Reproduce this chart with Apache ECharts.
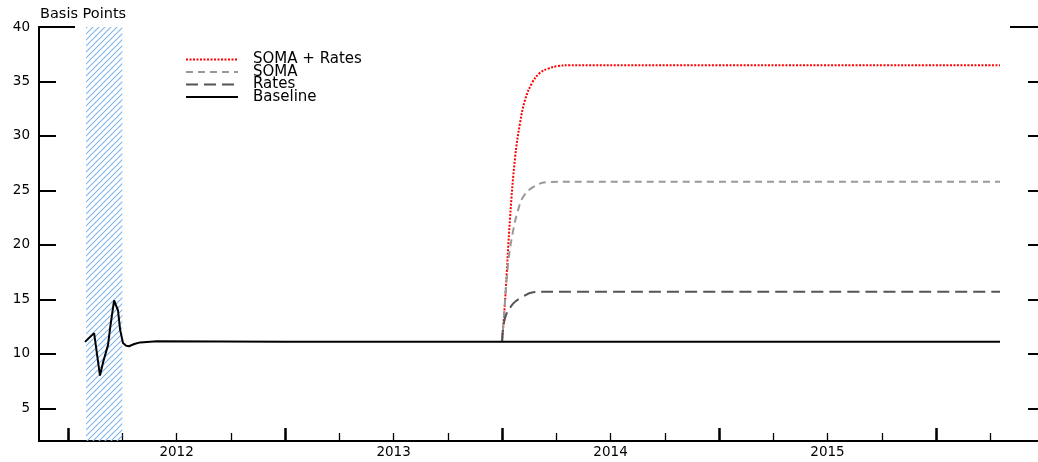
<!DOCTYPE html>
<html>
<head>
<meta charset="utf-8">
<script src="https://cdn.jsdelivr.net/npm/echarts@6/dist/echarts.min.js"></script>
<style>
  html, body { margin: 0; padding: 0; background: #fff; }
  #chart { width: 1038px; height: 462px; }
</style>
</head>
<body>
<div id="chart"></div>
<script>
// x values are decimal years
var xRange = [2011.866, 2016.47];
var yRange = [2, 40];
var yTicks = [5, 10, 15, 20, 25, 30, 35, 40];
var quarterTicks = [2012, 2012.25, 2012.5, 2012.75, 2013, 2013.25, 2013.5, 2013.75,
  2014, 2014.25, 2014.5, 2014.75, 2015, 2015.25, 2015.5, 2015.75, 2016, 2016.25];
var yearTicks = [2012, 2013, 2014, 2015, 2016];
var yearLabels = ['2012', '2013', '2014', '2015'];
var shadedPeriod = [2012.083, 2012.25];

var baseline = [
  [2012.078, 11.1], [2012.12, 11.9], [2012.147, 8.0], [2012.161, 9.2], [2012.184, 10.8],
  [2012.194, 12.4], [2012.212, 14.9], [2012.23, 14.0], [2012.24, 12.2], [2012.253, 11.0],
  [2012.268, 10.75], [2012.281, 10.7], [2012.305, 10.9], [2012.332, 11.05], [2012.41, 11.15],
  [2013.0, 11.1], [2016.295, 11.1]
];
var somaRates = [
  [2014.0, 11.1], [2014.014, 14.9], [2014.037, 22.5], [2014.06, 28.0], [2014.083, 31.2],
  [2014.106, 33.3], [2014.138, 34.85], [2014.175, 35.8], [2014.215, 36.2], [2014.253, 36.4],
  [2014.313, 36.5], [2016.295, 36.5]
];
var soma = [
  [2014.0, 11.1], [2014.005, 12.4], [2014.028, 18.3], [2014.051, 21.3], [2014.074, 23.2],
  [2014.097, 24.4], [2014.143, 25.3], [2014.207, 25.75], [2014.3, 25.8], [2016.295, 25.8]
];
var rates = [
  [2014.0, 11.1], [2014.014, 13.3], [2014.051, 14.6], [2014.092, 15.2], [2014.143, 15.65],
  [2014.221, 15.7], [2016.295, 15.7]
];

// diagonal hatch pattern
var hatch = document.createElement('canvas');
hatch.width = 6; hatch.height = 6;
(function () {
  var c = hatch.getContext('2d');
  c.strokeStyle = '#80b4e8';
  c.lineWidth = 1.1;
  c.beginPath();
  c.moveTo(-1, 7); c.lineTo(7, -1);
  c.moveTo(-1, 1); c.lineTo(1, -1);
  c.moveTo(5, 7); c.lineTo(7, 5);
  c.stroke();
})();

var ink = '#000';
var font = 'DejaVu Sans, Arial, sans-serif';

var chart = echarts.init(document.getElementById('chart'));

function yAx(position, tickVals, len, labels) {
  return {
    type: 'value', min: yRange[0], max: yRange[1], position: position,
    axisLine: { show: position === 'left', lineStyle: { color: '#000', width: 2 } },
    axisTick: { show: true, inside: true, length: len, customValues: tickVals, lineStyle: { color: '#000', width: 2 } },
    axisLabel: labels ? { show: true, customValues: yTicks, color: ink, fontSize: 13.5, fontFamily: font, margin: 9 } : { show: false },
    splitLine: { show: false }
  };
}

chart.setOption({
  animation: false,
  title: {
    text: 'Basis Points', left: 35, top: 2,
    textStyle: { fontSize: 14.5, fontWeight: 'normal', color: ink, fontFamily: font }
  },
  legend: {
    orient: 'vertical', left: 180, top: 47,
    itemWidth: 52, itemHeight: 12, itemGap: -2.5,
    itemStyle: { opacity: 0 },
    textStyle: { fontSize: 15, color: ink, fontFamily: font, lineHeight: 12, padding: [0, 0, 0, 10] },
    data: ['SOMA + Rates', 'SOMA', 'Rates', 'Baseline']
  },
  grid: { left: 39, right: 0, top: 27, bottom: 21, containLabel: false },
  xAxis: [
    {
      type: 'value', min: xRange[0], max: xRange[1],
      axisLine: { lineStyle: { color: '#000', width: 2 } },
      axisTick: { inside: true, length: 8, customValues: quarterTicks, lineStyle: { color: '#000', width: 1.3 } },
      axisLabel: {
        customValues: yearLabels.map(function (y) { return +y + 0.5; }),
        formatter: function (v) { return String(Math.floor(v)); },
        color: ink, fontSize: 13.5, fontFamily: font, margin: 4
      },
      splitLine: { show: false }
    },
    {
      type: 'value', min: xRange[0], max: xRange[1], position: 'bottom',
      axisLine: { show: false },
      axisTick: { inside: true, length: 13, customValues: yearTicks, lineStyle: { color: '#000', width: 2.5 } },
      axisLabel: { show: false },
      splitLine: { show: false }
    }
  ],
  yAxis: [
    yAx('left', yTicks, 17, true),
    yAx('left', [40], 36, false),
    yAx('right', yTicks, 10, false),
    yAx('right', [40], 28, false)
  ],
  series: [
    {
      name: 'SOMA + Rates', type: 'line', data: somaRates, symbol: 'none', smooth: 0.4, z: 3,
      color: '#ff0000', lineStyle: { color: '#ff0000', width: 2, type: [2, 1.5] }
    },
    {
      name: 'SOMA', type: 'line', data: soma, symbol: 'none', smooth: 0.4, z: 4,
      color: '#999999', lineStyle: { color: '#999999', width: 2, type: [7, 5] }
    },
    {
      name: 'Rates', type: 'line', data: rates, symbol: 'none', smooth: 0.4, z: 5,
      color: '#555555', lineStyle: { color: '#555555', width: 2, type: [12, 6] }
    },
    {
      name: 'Baseline', type: 'line', data: baseline, symbol: 'none', z: 6,
      color: '#000', lineStyle: { color: '#000', width: 2 },
      markArea: {
        silent: true,
        itemStyle: { color: { image: hatch, repeat: 'repeat' } },
        data: [[{ xAxis: shadedPeriod[0] }, { xAxis: shadedPeriod[1] }]]
      }
    }
  ]
});
window.addEventListener('resize', function () { chart.resize(); });
</script>
</body>
</html>
